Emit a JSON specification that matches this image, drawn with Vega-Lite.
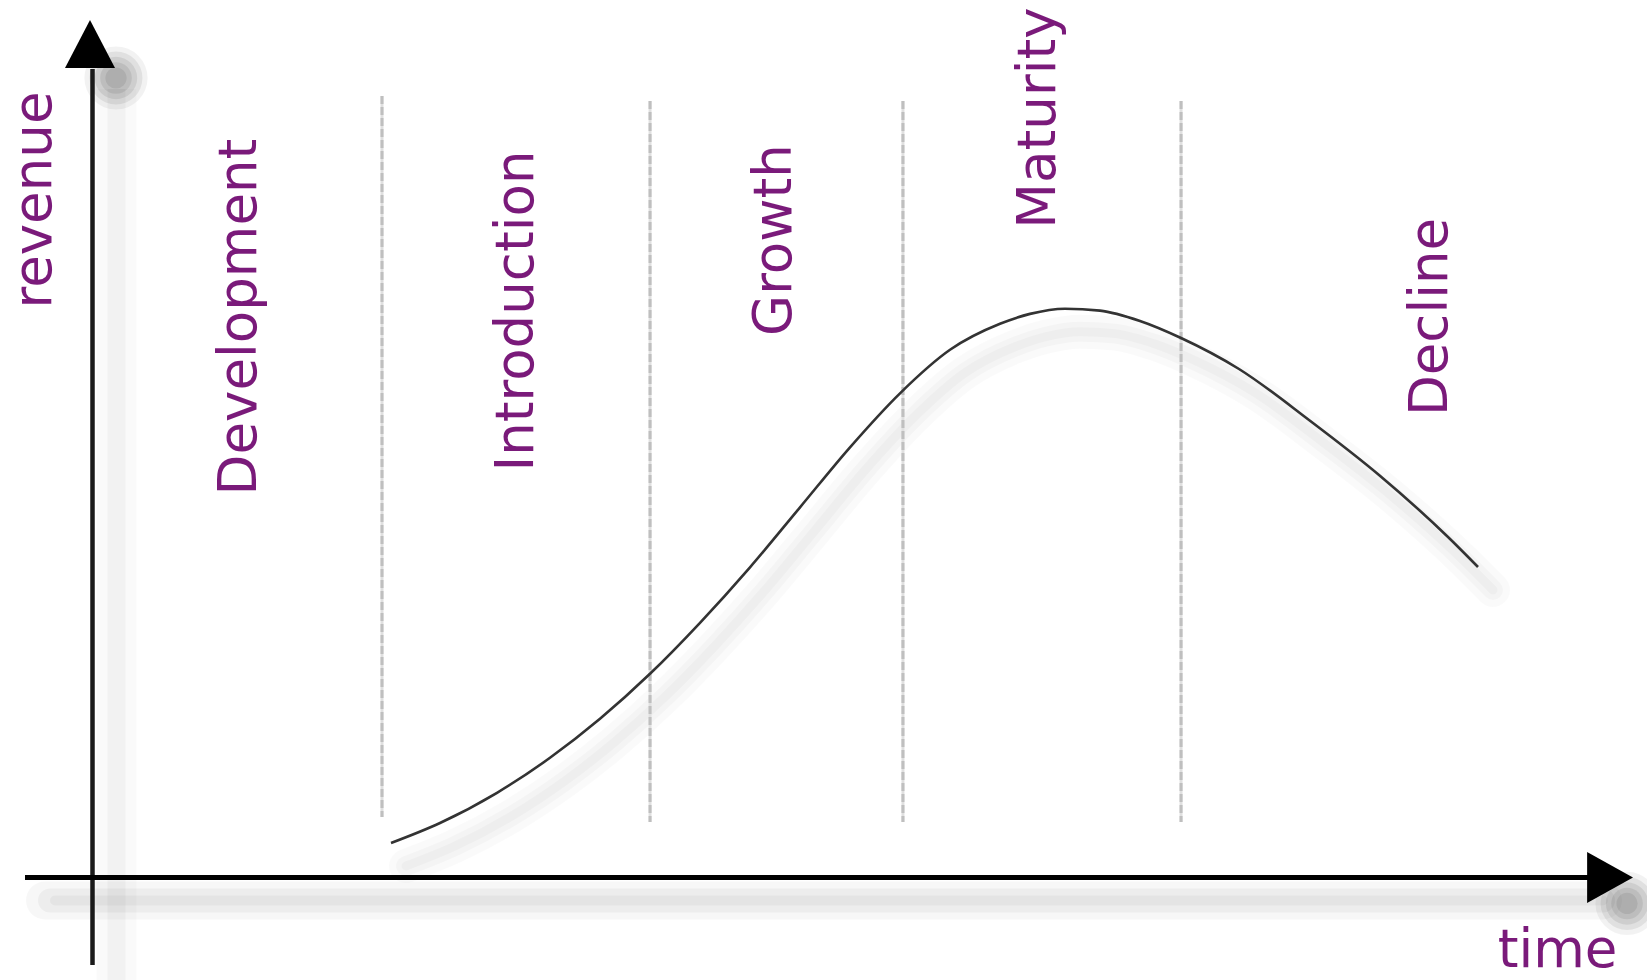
{
  "$schema": "https://vega.github.io/schema/vega-lite/v6.json",
  "width": 1647,
  "height": 980,
  "autosize": {"type": "none"},
  "padding": 0,
  "background": "white",
  "config": {"view": {"stroke": null}},
  "datasets": {
    "curve": [
      {"time": 20, "revenue": 4.25},
      {"time": 23.267, "revenue": 6.75},
      {"time": 27.067, "revenue": 10.525},
      {"time": 30.6, "revenue": 14.9},
      {"time": 33.933, "revenue": 19.775},
      {"time": 37.267, "revenue": 25.4},
      {"time": 40.6, "revenue": 31.775},
      {"time": 43.933, "revenue": 38.71},
      {"time": 47.267, "revenue": 46.21},
      {"time": 50.6, "revenue": 53.71},
      {"time": 53.933, "revenue": 60.46},
      {"time": 57.267, "revenue": 65.9},
      {"time": 60.6, "revenue": 69.15},
      {"time": 62.6, "revenue": 70.39},
      {"time": 64.933, "revenue": 71.04},
      {"time": 67.267, "revenue": 70.8},
      {"time": 69.933, "revenue": 69.5},
      {"time": 72.667, "revenue": 67.375},
      {"time": 76.533, "revenue": 63.5},
      {"time": 81.2, "revenue": 57.125},
      {"time": 85.867, "revenue": 50.25},
      {"time": 90.467, "revenue": 42.5},
      {"time": 92.467, "revenue": 38.75}
    ],
    "phases": [
      {"time": 19.4, "top": 97.625, "bottom": 7.5},
      {"time": 37.27, "top": 97, "bottom": 6.875},
      {"time": 54.13, "top": 97, "bottom": 6.875},
      {"time": 72.67, "top": 97, "bottom": 6.875}
    ],
    "vaxis": [{"time": 0.1, "from": -11, "to": 101}],
    "haxis": [{"revenue": -0.06, "from": -4.4, "to": 99.8}],
    "varrow": [{"time": -0.067, "revenue": 104.125}],
    "harrow": [{"time": 101.27, "revenue": -0.06}],
    "labels": [
      {"label": "revenue", "time": -3.733, "revenue": 84.625},
      {"label": "Development", "time": 9.933, "revenue": 70},
      {"label": "Introduction", "time": 28.4, "revenue": 70.75},
      {"label": "Growth", "time": 45.6, "revenue": 79.625},
      {"label": "Maturity", "time": 63.2, "revenue": 94.875},
      {"label": "Decline", "time": 89.33, "revenue": 70}
    ],
    "xlabel": [{"label": "time", "time": 97.77, "revenue": -11.3}]
  },
  "layer": [
    {
      "data": {"name": "vaxis"},
      "mark": {"type": "rule", "color": "#000000", "opacity": 0.02, "strokeWidth": 40, "xOffset": 24, "yOffset": 20, "y2Offset": 20},
      "encoding": {
        "x": {"field": "time", "type": "quantitative", "scale": {"domain": [-6.0667, 103.7333], "nice": false, "zero": false}, "axis": null},
        "y": {"field": "from", "type": "quantitative", "scale": {"domain": [-12.875, 109.625], "nice": false, "zero": false}, "axis": null},
        "y2": {"field": "to"}
      }
    },
    {
      "data": {"name": "vaxis"},
      "mark": {"type": "rule", "color": "#000000", "opacity": 0.03, "strokeWidth": 18, "xOffset": 24, "yOffset": 20, "y2Offset": 20},
      "encoding": {
        "x": {"field": "time", "type": "quantitative", "scale": {"domain": [-6.0667, 103.7333], "nice": false, "zero": false}, "axis": null},
        "y": {"field": "from", "type": "quantitative", "scale": {"domain": [-12.875, 109.625], "nice": false, "zero": false}, "axis": null},
        "y2": {"field": "to"}
      }
    },
    {
      "data": {"name": "haxis"},
      "mark": {"type": "rule", "color": "#000000", "opacity": 0.03, "strokeWidth": 38, "xOffset": 20, "x2Offset": 15, "yOffset": 23, "strokeCap": "round"},
      "encoding": {
        "y": {"field": "revenue", "type": "quantitative", "scale": {"domain": [-12.875, 109.625], "nice": false, "zero": false}, "axis": null},
        "x": {"field": "from", "type": "quantitative", "scale": {"domain": [-6.0667, 103.7333], "nice": false, "zero": false}, "axis": null},
        "x2": {"field": "to"}
      }
    },
    {
      "data": {"name": "haxis"},
      "mark": {"type": "rule", "color": "#000000", "opacity": 0.04, "strokeWidth": 24, "xOffset": 25, "x2Offset": 15, "yOffset": 23, "strokeCap": "round"},
      "encoding": {
        "y": {"field": "revenue", "type": "quantitative", "scale": {"domain": [-12.875, 109.625], "nice": false, "zero": false}, "axis": null},
        "x": {"field": "from", "type": "quantitative", "scale": {"domain": [-6.0667, 103.7333], "nice": false, "zero": false}, "axis": null},
        "x2": {"field": "to"}
      }
    },
    {
      "data": {"name": "haxis"},
      "mark": {"type": "rule", "color": "#000000", "opacity": 0.035, "strokeWidth": 10, "xOffset": 30, "x2Offset": 15, "yOffset": 23, "strokeCap": "round"},
      "encoding": {
        "y": {"field": "revenue", "type": "quantitative", "scale": {"domain": [-12.875, 109.625], "nice": false, "zero": false}, "axis": null},
        "x": {"field": "from", "type": "quantitative", "scale": {"domain": [-6.0667, 103.7333], "nice": false, "zero": false}, "axis": null},
        "x2": {"field": "to"}
      }
    },
    {
      "data": {"name": "curve"},
      "mark": {"type": "line", "interpolate": "monotone", "color": "#000000", "opacity": 0.02, "strokeWidth": 34, "xOffset": 15, "yOffset": 23, "strokeCap": "round"},
      "encoding": {
        "x": {"field": "time", "type": "quantitative", "scale": {"domain": [-6.0667, 103.7333], "nice": false, "zero": false}, "axis": null},
        "y": {"field": "revenue", "type": "quantitative", "scale": {"domain": [-12.875, 109.625], "nice": false, "zero": false}, "axis": null}
      }
    },
    {
      "data": {"name": "curve"},
      "mark": {"type": "line", "interpolate": "monotone", "color": "#000000", "opacity": 0.025, "strokeWidth": 20, "xOffset": 15, "yOffset": 23, "strokeCap": "round"},
      "encoding": {
        "x": {"field": "time", "type": "quantitative", "scale": {"domain": [-6.0667, 103.7333], "nice": false, "zero": false}, "axis": null},
        "y": {"field": "revenue", "type": "quantitative", "scale": {"domain": [-12.875, 109.625], "nice": false, "zero": false}, "axis": null}
      }
    },
    {
      "data": {"name": "curve"},
      "mark": {"type": "line", "interpolate": "monotone", "color": "#000000", "opacity": 0.025, "strokeWidth": 9, "xOffset": 15, "yOffset": 23, "strokeCap": "round"},
      "encoding": {
        "x": {"field": "time", "type": "quantitative", "scale": {"domain": [-6.0667, 103.7333], "nice": false, "zero": false}, "axis": null},
        "y": {"field": "revenue", "type": "quantitative", "scale": {"domain": [-12.875, 109.625], "nice": false, "zero": false}, "axis": null}
      }
    },
    {
      "data": {"name": "varrow"},
      "mark": {"type": "point", "shape": "circle", "filled": true, "color": "#000000", "opacity": 0.05, "size": 4000, "strokeWidth": 0, "xOffset": 26, "yOffset": 34},
      "encoding": {
        "x": {"field": "time", "type": "quantitative", "scale": {"domain": [-6.0667, 103.7333], "nice": false, "zero": false}, "axis": null},
        "y": {"field": "revenue", "type": "quantitative", "scale": {"domain": [-12.875, 109.625], "nice": false, "zero": false}, "axis": null}
      }
    },
    {
      "data": {"name": "varrow"},
      "mark": {"type": "point", "shape": "circle", "filled": true, "color": "#000000", "opacity": 0.07, "size": 2800, "strokeWidth": 0, "xOffset": 26, "yOffset": 34},
      "encoding": {
        "x": {"field": "time", "type": "quantitative", "scale": {"domain": [-6.0667, 103.7333], "nice": false, "zero": false}, "axis": null},
        "y": {"field": "revenue", "type": "quantitative", "scale": {"domain": [-12.875, 109.625], "nice": false, "zero": false}, "axis": null}
      }
    },
    {
      "data": {"name": "varrow"},
      "mark": {"type": "point", "shape": "circle", "filled": true, "color": "#000000", "opacity": 0.08, "size": 1800, "strokeWidth": 0, "xOffset": 26, "yOffset": 34},
      "encoding": {
        "x": {"field": "time", "type": "quantitative", "scale": {"domain": [-6.0667, 103.7333], "nice": false, "zero": false}, "axis": null},
        "y": {"field": "revenue", "type": "quantitative", "scale": {"domain": [-12.875, 109.625], "nice": false, "zero": false}, "axis": null}
      }
    },
    {
      "data": {"name": "varrow"},
      "mark": {"type": "point", "shape": "circle", "filled": true, "color": "#000000", "opacity": 0.08, "size": 1000, "strokeWidth": 0, "xOffset": 26, "yOffset": 34},
      "encoding": {
        "x": {"field": "time", "type": "quantitative", "scale": {"domain": [-6.0667, 103.7333], "nice": false, "zero": false}, "axis": null},
        "y": {"field": "revenue", "type": "quantitative", "scale": {"domain": [-12.875, 109.625], "nice": false, "zero": false}, "axis": null}
      }
    },
    {
      "data": {"name": "varrow"},
      "mark": {"type": "point", "shape": "circle", "filled": true, "color": "#000000", "opacity": 0.08, "size": 450, "strokeWidth": 0, "xOffset": 26, "yOffset": 34},
      "encoding": {
        "x": {"field": "time", "type": "quantitative", "scale": {"domain": [-6.0667, 103.7333], "nice": false, "zero": false}, "axis": null},
        "y": {"field": "revenue", "type": "quantitative", "scale": {"domain": [-12.875, 109.625], "nice": false, "zero": false}, "axis": null}
      }
    },
    {
      "data": {"name": "harrow"},
      "mark": {"type": "point", "shape": "circle", "filled": true, "color": "#000000", "opacity": 0.05, "size": 4000, "strokeWidth": 0, "xOffset": 17, "yOffset": 26},
      "encoding": {
        "x": {"field": "time", "type": "quantitative", "scale": {"domain": [-6.0667, 103.7333], "nice": false, "zero": false}, "axis": null},
        "y": {"field": "revenue", "type": "quantitative", "scale": {"domain": [-12.875, 109.625], "nice": false, "zero": false}, "axis": null}
      }
    },
    {
      "data": {"name": "harrow"},
      "mark": {"type": "point", "shape": "circle", "filled": true, "color": "#000000", "opacity": 0.07, "size": 2800, "strokeWidth": 0, "xOffset": 17, "yOffset": 26},
      "encoding": {
        "x": {"field": "time", "type": "quantitative", "scale": {"domain": [-6.0667, 103.7333], "nice": false, "zero": false}, "axis": null},
        "y": {"field": "revenue", "type": "quantitative", "scale": {"domain": [-12.875, 109.625], "nice": false, "zero": false}, "axis": null}
      }
    },
    {
      "data": {"name": "harrow"},
      "mark": {"type": "point", "shape": "circle", "filled": true, "color": "#000000", "opacity": 0.08, "size": 1800, "strokeWidth": 0, "xOffset": 17, "yOffset": 26},
      "encoding": {
        "x": {"field": "time", "type": "quantitative", "scale": {"domain": [-6.0667, 103.7333], "nice": false, "zero": false}, "axis": null},
        "y": {"field": "revenue", "type": "quantitative", "scale": {"domain": [-12.875, 109.625], "nice": false, "zero": false}, "axis": null}
      }
    },
    {
      "data": {"name": "harrow"},
      "mark": {"type": "point", "shape": "circle", "filled": true, "color": "#000000", "opacity": 0.08, "size": 1000, "strokeWidth": 0, "xOffset": 17, "yOffset": 26},
      "encoding": {
        "x": {"field": "time", "type": "quantitative", "scale": {"domain": [-6.0667, 103.7333], "nice": false, "zero": false}, "axis": null},
        "y": {"field": "revenue", "type": "quantitative", "scale": {"domain": [-12.875, 109.625], "nice": false, "zero": false}, "axis": null}
      }
    },
    {
      "data": {"name": "harrow"},
      "mark": {"type": "point", "shape": "circle", "filled": true, "color": "#000000", "opacity": 0.08, "size": 450, "strokeWidth": 0, "xOffset": 17, "yOffset": 26},
      "encoding": {
        "x": {"field": "time", "type": "quantitative", "scale": {"domain": [-6.0667, 103.7333], "nice": false, "zero": false}, "axis": null},
        "y": {"field": "revenue", "type": "quantitative", "scale": {"domain": [-12.875, 109.625], "nice": false, "zero": false}, "axis": null}
      }
    },
    {
      "data": {"name": "phases"},
      "mark": {"type": "rule", "color": "#e0e0e0", "strokeWidth": 3},
      "encoding": {
        "x": {"field": "time", "type": "quantitative", "scale": {"domain": [-6.0667, 103.7333], "nice": false, "zero": false}, "axis": null},
        "y": {"field": "top", "type": "quantitative", "scale": {"domain": [-12.875, 109.625], "nice": false, "zero": false}, "axis": null},
        "y2": {"field": "bottom"}
      }
    },
    {
      "data": {"name": "phases"},
      "mark": {"type": "rule", "color": "#bfbfbf", "strokeWidth": 3, "strokeDash": [8, 3]},
      "encoding": {
        "x": {"field": "time", "type": "quantitative", "scale": {"domain": [-6.0667, 103.7333], "nice": false, "zero": false}, "axis": null},
        "y": {"field": "top", "type": "quantitative", "scale": {"domain": [-12.875, 109.625], "nice": false, "zero": false}, "axis": null},
        "y2": {"field": "bottom"}
      }
    },
    {
      "data": {"name": "curve"},
      "mark": {"type": "line", "interpolate": "monotone", "color": "#333333", "strokeWidth": 2.6},
      "encoding": {
        "x": {"field": "time", "type": "quantitative", "scale": {"domain": [-6.0667, 103.7333], "nice": false, "zero": false}, "axis": null},
        "y": {"field": "revenue", "type": "quantitative", "scale": {"domain": [-12.875, 109.625], "nice": false, "zero": false}, "axis": null}
      }
    },
    {
      "data": {"name": "vaxis"},
      "mark": {"type": "rule", "color": "#1a1a1a", "strokeWidth": 4.5},
      "encoding": {
        "x": {"field": "time", "type": "quantitative", "scale": {"domain": [-6.0667, 103.7333], "nice": false, "zero": false}, "axis": null},
        "y": {"field": "from", "type": "quantitative", "scale": {"domain": [-12.875, 109.625], "nice": false, "zero": false}, "axis": null},
        "y2": {"field": "to"}
      }
    },
    {
      "data": {"name": "haxis"},
      "mark": {"type": "rule", "color": "#000000", "strokeWidth": 5},
      "encoding": {
        "y": {"field": "revenue", "type": "quantitative", "scale": {"domain": [-12.875, 109.625], "nice": false, "zero": false}, "axis": null},
        "x": {"field": "from", "type": "quantitative", "scale": {"domain": [-6.0667, 103.7333], "nice": false, "zero": false}, "axis": null},
        "x2": {"field": "to"}
      }
    },
    {
      "data": {"name": "varrow"},
      "mark": {"type": "point", "shape": "M-1,0.96L0,-0.96L1,0.96Z", "filled": true, "color": "#000000", "opacity": 1, "size": 2500, "strokeWidth": 0},
      "encoding": {
        "x": {"field": "time", "type": "quantitative", "scale": {"domain": [-6.0667, 103.7333], "nice": false, "zero": false}, "axis": null},
        "y": {"field": "revenue", "type": "quantitative", "scale": {"domain": [-12.875, 109.625], "nice": false, "zero": false}, "axis": null}
      }
    },
    {
      "data": {"name": "harrow"},
      "mark": {"type": "point", "shape": "M-0.9,-1L0.9,0L-0.9,1Z", "filled": true, "color": "#000000", "opacity": 1, "size": 2601, "strokeWidth": 0},
      "encoding": {
        "x": {"field": "time", "type": "quantitative", "scale": {"domain": [-6.0667, 103.7333], "nice": false, "zero": false}, "axis": null},
        "y": {"field": "revenue", "type": "quantitative", "scale": {"domain": [-12.875, 109.625], "nice": false, "zero": false}, "axis": null}
      }
    },
    {
      "data": {"name": "labels"},
      "mark": {"type": "text", "angle": 270, "font": "DejaVu Sans", "fontSize": 53, "align": "center", "baseline": "middle", "color": "#7a1a7a"},
      "encoding": {
        "x": {"field": "time", "type": "quantitative", "scale": {"domain": [-6.0667, 103.7333], "nice": false, "zero": false}, "axis": null},
        "y": {"field": "revenue", "type": "quantitative", "scale": {"domain": [-12.875, 109.625], "nice": false, "zero": false}, "axis": null},
        "text": {"field": "label"}
      }
    },
    {
      "data": {"name": "xlabel"},
      "mark": {"type": "text", "font": "DejaVu Sans", "fontSize": 53, "align": "center", "baseline": "alphabetic", "color": "#7a1a7a"},
      "encoding": {
        "x": {"field": "time", "type": "quantitative", "scale": {"domain": [-6.0667, 103.7333], "nice": false, "zero": false}, "axis": null},
        "y": {"field": "revenue", "type": "quantitative", "scale": {"domain": [-12.875, 109.625], "nice": false, "zero": false}, "axis": null},
        "text": {"field": "label"}
      }
    }
  ]
}
